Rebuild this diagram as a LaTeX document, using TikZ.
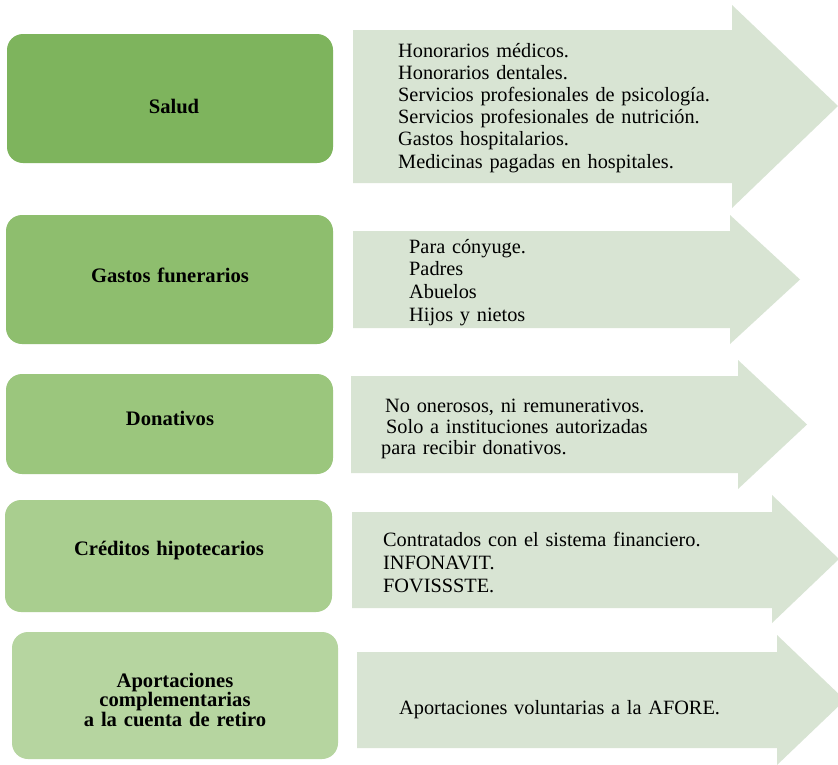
\documentclass[tikz,border=0pt]{standalone}
\usepackage{fontspec}
\setmainfont{Liberation Serif}
\definecolor{cA}{HTML}{7EB45D}
\definecolor{cB}{HTML}{8EBE6E}
\definecolor{cC}{HTML}{9BC67D}
\definecolor{cD}{HTML}{A9CE8F}
\definecolor{cE}{HTML}{B6D5A0}
\definecolor{arrowfill}{HTML}{D8E4D3}
\tikzset{
  catbox/.style={draw=none, rounded corners=16pt, inner sep=0pt},
  catlabel/.style={inner sep=0pt, anchor=base, text width=320pt, align=center,
    font=\fontsize{20.6}{19.5}\selectfont\bfseries},
  arrowshape/.style={fill=arrowfill, draw=none},
  itemtext/.style={inner sep=0pt, anchor=base west, text width=440pt, align=left}
}
\begin{document}
\begin{tikzpicture}[x=1pt,y=-1pt]
\clip (0,0) rectangle (838,764);
\fill[white] (0,0) rectangle (838,764);

% category boxes
\node[catbox, fill=cA, minimum width=326pt, minimum height=129pt] (b1) at (170,98.5) {};
\node[catbox, fill=cB, minimum width=327pt, minimum height=129pt] (b2) at (169.5,279.5) {};
\node[catbox, fill=cC, minimum width=327pt, minimum height=100pt] (b3) at (169.5,424) {};
\node[catbox, fill=cD, minimum width=327pt, minimum height=112pt] (b4) at (168.5,556) {};
\node[catbox, fill=cE, minimum width=326pt, minimum height=127pt] (b5) at (175,695.5) {};

\node[catlabel] (l1) at (174,113) {Salud};
\node[catlabel] (l2) at (170,282) {Gastos funerarios};
\node[catlabel] (l3) at (170,425) {Donativos};
\node[catlabel] (l4) at (169,555) {Créditos hipotecarios};
\node[catlabel] (l5) at (175,687) {Aportaciones\\complementarias\\a la cuenta de retiro};

% arrows
\fill[arrowshape] (353,30) -- (732,30) -- (732,5) -- (838,106) -- (732,208) -- (732,183) -- (353,183) -- cycle;
\fill[arrowshape] (353,231) -- (730,231) -- (730,215) -- (800,279.5) -- (730,344) -- (730,328) -- (353,328) -- cycle;
\fill[arrowshape] (351,376) -- (738,376) -- (738,360) -- (807,424.5) -- (738,489) -- (738,473) -- (351,473) -- cycle;
\fill[arrowshape] (352,512) -- (772,512) -- (772,495) -- (839,559) -- (772,623) -- (772,608) -- (352,608) -- cycle;
\fill[arrowshape] (357,652) -- (777,652) -- (777,635) -- (845,700) -- (777,765) -- (777,748) -- (357,748) -- cycle;

% arrow texts
\node[itemtext, font=\fontsize{20.3}{22.2}\selectfont] (t1) at (398,57)
  {Honorarios médicos.\\Honorarios dentales.\\Servicios profesionales de psicología.\\Servicios profesionales de nutrición.\\Gastos hospitalarios.\\Medicinas pagadas en hospitales.};
\node[itemtext, font=\fontsize{20.3}{22.7}\selectfont] (t2) at (409,253)
  {Para cónyuge.\\Padres\\Abuelos\\Hijos y nietos};
\node[itemtext, font=\fontsize{20.3}{21}\selectfont] (t3) at (381,412)
  {\hspace*{4pt}No onerosos, ni remunerativos.\\\hspace*{5pt}Solo a instituciones autorizadas\\para recibir donativos.};
\node[itemtext, font=\fontsize{20.3}{23}\selectfont] (t4) at (383,546)
  {Contratados con el sistema financiero.\\INFONAVIT.\\FOVISSSTE.};
\node[itemtext, font=\fontsize{20.3}{23}\selectfont] (t5) at (399,714)
  {Aportaciones voluntarias a la AFORE.};
\end{tikzpicture}
\end{document}
